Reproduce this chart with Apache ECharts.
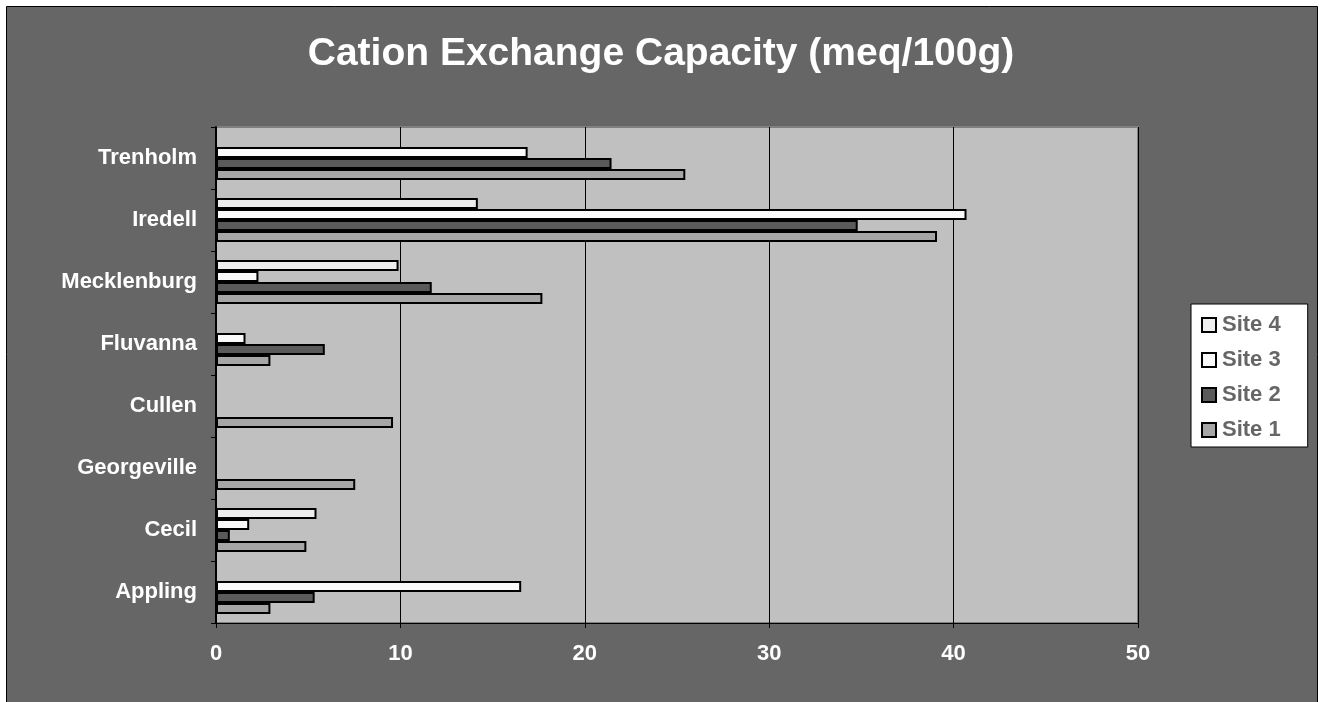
<!DOCTYPE html>
<html>
<head>
<meta charset="utf-8">
<script src="https://cdn.jsdelivr.net/npm/echarts@6/dist/echarts.min.js"></script>
<style>
html,body{margin:0;padding:0;background:#fff;}
#chart{width:1322px;height:702px;}
</style>
</head>
<body>
<div id="chart"></div>
<script>
const titleText = 'Cation Exchange Capacity (meq/100g)';
const categories = ['Appling', 'Cecil', 'Georgeville', 'Cullen', 'Fluvanna', 'Mecklenburg', 'Iredell', 'Trenholm'];
const seriesNames = ['Site 4', 'Site 3', 'Site 2', 'Site 1'];
const site4 = [null, 5.45, null, null, null, 9.9, 14.2, null];
const site3 = [16.55, 1.8, null, null, 1.6, 2.3, 40.7, 16.9];
const site2 = [5.35, 0.75, null, null, 5.9, 11.7, 34.8, 21.45];
const site1 = [2.95, 4.9, 7.55, 9.6, 2.95, 17.7, 39.1, 25.45];
const xTicks = [0, 10, 20, 30, 40, 50];

const colors = ['#eeeeee', '#fafafa', '#5a5a5a', '#a6a6a6'];
const values = [site4, site3, site2, site1];
const FONT = '"Liberation Sans", Arial, sans-serif';

const chart = echarts.init(document.getElementById('chart'), null, {renderer: 'canvas'});
const option = {
  backgroundColor: '#ffffff',
  animation: false,
  graphic: [{
    type: 'rect', z: -10, silent: true,
    shape: {x: 6.5, y: 6.5, width: 1311, height: 710},
    style: {fill: '#666666', stroke: '#000000', lineWidth: 1}
  }],
  title: {
    text: titleText,
    left: 'center',
    top: 30,
    textStyle: {color: '#ffffff', fontFamily: FONT, fontWeight: 'bold', fontSize: 39}
  },
  legend: {
    orient: 'vertical',
    left: 1191,
    top: 304,
    data: ['Site 4', 'Site 3', 'Site 2', 'Site 1'],
    backgroundColor: '#ffffff',
    borderColor: '#000000',
    borderWidth: 1,
    padding: [10, 27, 6, 10],
    itemGap: 13,
    itemWidth: 14,
    itemHeight: 14,
    icon: 'rect',
    itemStyle: {borderColor: '#000000', borderWidth: 2},
    textStyle: {color: '#666666', fontFamily: FONT, fontWeight: 'bold', fontSize: 22, padding: [0, 0, 0, 1]}
  },
  grid: {
    left: 216, top: 127, right: 184, bottom: 79,
    show: true,
    backgroundColor: '#c0c0c0',
    borderColor: '#808080',
    borderWidth: 2
  },
  xAxis: {
    type: 'value',
    min: xTicks[0],
    max: xTicks[xTicks.length - 1],
    interval: 10,
    axisLine: {show: true, lineStyle: {color: '#000000', width: 1}},
    axisTick: {show: true, length: 5, lineStyle: {color: '#000000'}},
    splitLine: {show: true, lineStyle: {color: '#000000', width: 1}},
    axisLabel: {color: '#ffffff', fontFamily: FONT, fontWeight: 'bold', fontSize: 22, margin: 20}
  },
  yAxis: {
    type: 'category',
    data: categories,
    axisLine: {show: true, lineStyle: {color: '#000000', width: 2}},
    axisTick: {show: true, length: 5, lineStyle: {color: '#000000'}},
    splitLine: {show: false},
    axisLabel: {color: '#ffffff', fontFamily: FONT, fontWeight: 'bold', fontSize: 22, margin: 19}
  },
  series: seriesNames.map((name, i) => ({
    name: name,
    type: 'bar',
    data: values[i],
    barGap: '0%',
    barCategoryGap: '29%',
    itemStyle: {color: colors[i], borderColor: '#000000', borderWidth: 2}
  }))
};
chart.setOption(option);
</script>
</body>
</html>
